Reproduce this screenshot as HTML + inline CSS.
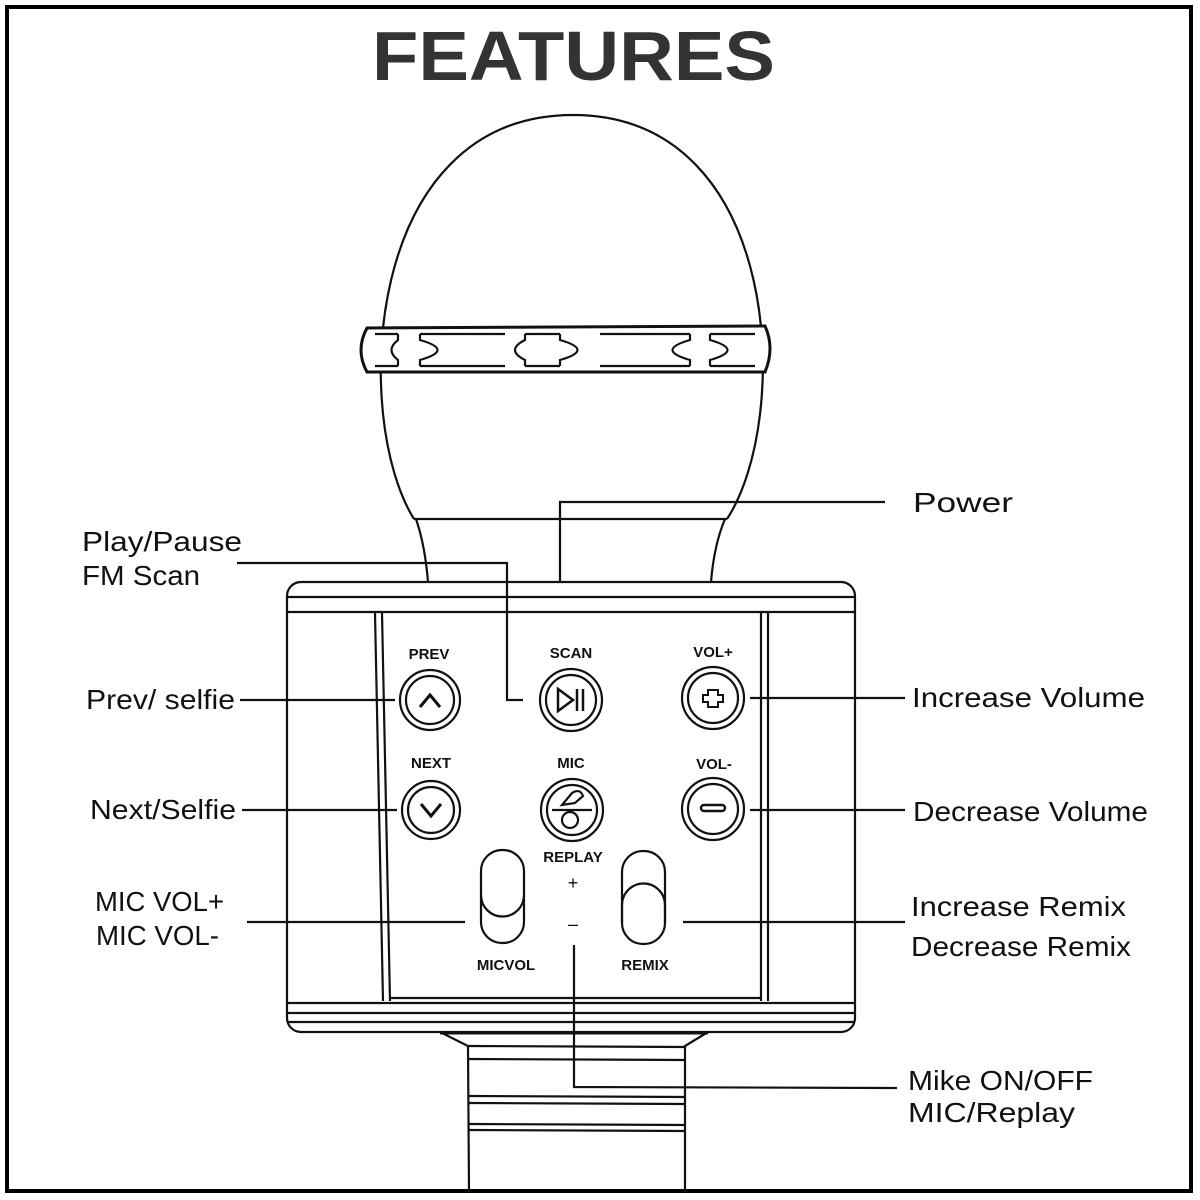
<!DOCTYPE html>
<html><head><meta charset="utf-8"><style>
html,body{margin:0;padding:0;background:#fff;}
svg{display:block;}
text{font-family:"Liberation Sans",sans-serif;fill:#111;}
.lbl{font-size:28px;}
.btn{font-size:15px;font-weight:bold;text-anchor:middle;}
</style></head><body>
<svg width="1200" height="1200" viewBox="0 0 1200 1200" xmlns="http://www.w3.org/2000/svg">
<rect x="0" y="0" width="1200" height="1200" fill="#fff"/>
<rect x="7" y="7" width="1184" height="1184" fill="none" stroke="#000" stroke-width="4"/>
<text x="372" y="80" font-size="70" font-weight="bold" textLength="403" lengthAdjust="spacingAndGlyphs" style="fill:#333">FEATURES</text>

<g fill="none" stroke="#111" stroke-width="2.2">
<path d="M414 519 C352 420 362 115 573 115 C784 115 792 420 727 519"/>
<path d="M367 328 L765 326 Q775 348 765 372 L367 372 Q355 350 367 328 Z" fill="#fff" stroke-width="3"/>
<path d="M375 334 L398 334 M420 334 L505 334 M525 334 L560 334 M600 334 L690 334 M710 334 L755 334"/>
<path d="M375 366 L398 366 M420 366 L505 366 M525 366 L560 366 M600 366 L690 366 M710 366 L755 366"/>
<path d="M398 334 L398 340 Q385 350 398 360 L398 366"/>
<path d="M420 334 L420 340 Q455 350 420 360 L420 366"/>
<path d="M525 334 L525 340 Q505 350 525 360 L525 366"/>
<path d="M560 334 L560 340 Q595 350 560 360 L560 366"/>
<path d="M690 334 L690 340 Q655 350 690 360 L690 366"/>
<path d="M710 334 L710 340 Q745 350 710 360 L710 366"/>
<path d="M414 519 L727 519"/>
<path d="M416 519 Q425 545 428 582"/>
<path d="M725 519 Q714 545 711 582"/>
<rect x="287" y="582" width="568" height="450" rx="14"/>
<path d="M288 597 L854 597 M288 612 L854 612"/>
<path d="M375 613 L383 1001 M382 613 L390 1001"/>
<path d="M761 613 L761 1001 M768 613 L768 1001"/>
<path d="M390 998 L760 998"/>
<path d="M288 1003 L854 1003 M288 1013 L854 1013 M288 1022 L854 1022"/>
<path d="M440 1032 L468 1046 L469 1192 M708 1032 L685 1046 L685 1192"/>
<path d="M440 1033 L708 1033" stroke-width="3"/>
<path d="M468 1046 L685 1047 M468 1059 L685 1060 M469 1096 L685 1097 M469 1103 L685 1104 M469 1124 L685 1125 M469 1130 L685 1131"/>
<circle cx="430" cy="700" r="30"/><circle cx="430" cy="700" r="24"/>
<circle cx="571" cy="700" r="31"/><circle cx="571" cy="700" r="25"/>
<circle cx="713" cy="698" r="31"/><circle cx="713" cy="698" r="25"/>
<circle cx="431" cy="810" r="29"/><circle cx="431" cy="810" r="23"/>
<circle cx="572" cy="810" r="31"/><circle cx="572" cy="810" r="25"/>
<circle cx="713" cy="809" r="31"/><circle cx="713" cy="809" r="25"/>
<path d="M420 707 L430 695 L440 707" stroke-width="3"/>
<path d="M421 804 L431 816 L441 804" stroke-width="3"/>
<path d="M558 689 L558 711 L573 700 Z M577 689 L577 711 M583 689 L583 711" stroke-width="2.5"/>
<path d="M708 690 L718 690 L718 695 L723 695 L723 702 L718 702 L718 707 L708 707 L708 702 L703 702 L703 695 L708 695 Z" stroke-width="2"/>
<rect x="701" y="805" width="24" height="6" rx="3" stroke-width="2.5"/>
<path d="M552 810 L592 810"/>
<circle cx="570" cy="820" r="8"/>
<path d="M562 805 L572 793 Q580 788 583 796 L575 803 Z"/>
<rect x="481" y="850" width="43" height="93" rx="21"/>
<path d="M481 895 A21 21 0 0 0 524 895"/>
<rect x="622" y="851" width="43" height="93" rx="21"/>
<path d="M622 922 L622 905 A21 21 0 0 1 665 905 L665 922"/>
<path d="M237 563 L507 563 L507 700 L523 700"/>
<path d="M885 502 L560 502 L560 582"/>
<path d="M240 700 L395 700 M242 810 L397 810"/>
<path d="M750 698 L905 698 M750 810 L905 810"/>
<path d="M247 922 L465 922 M683 922 L905 922"/>
<path d="M574 945 L574 1087 L897 1088"/>
</g>
<text class="btn" x="429" y="659">PREV</text>
<text class="btn" x="571" y="658">SCAN</text>
<text class="btn" x="713" y="657">VOL+</text>
<text class="btn" x="431" y="768">NEXT</text>
<text class="btn" x="571" y="768">MIC</text>
<text class="btn" x="714" y="769">VOL-</text>
<text class="btn" x="573" y="862">REPLAY</text>
<text class="btn" x="573" y="889" style="font-weight:normal;font-size:18px">+</text>
<text class="btn" x="573" y="930" style="font-weight:normal;font-size:18px">–</text>
<text class="btn" x="506" y="970">MICVOL</text>
<text class="btn" x="645" y="970">REMIX</text>

<text class="lbl" x="913" y="512" textLength="100" lengthAdjust="spacingAndGlyphs">Power</text>
<text class="lbl" x="82" y="551" textLength="160" lengthAdjust="spacingAndGlyphs">Play/Pause</text>
<text class="lbl" x="82" y="585" textLength="118" lengthAdjust="spacingAndGlyphs">FM Scan</text>
<text class="lbl" x="86" y="709" textLength="149" lengthAdjust="spacingAndGlyphs">Prev/ selfie</text>
<text class="lbl" x="90" y="819" textLength="146" lengthAdjust="spacingAndGlyphs">Next/Selfie</text>
<text class="lbl" x="912" y="707" textLength="233" lengthAdjust="spacingAndGlyphs">Increase Volume</text>
<text class="lbl" x="913" y="821" textLength="235" lengthAdjust="spacingAndGlyphs">Decrease Volume</text>
<text class="lbl" x="95" y="911" textLength="129" lengthAdjust="spacingAndGlyphs">MIC VOL+</text>
<text class="lbl" x="96" y="945" textLength="123" lengthAdjust="spacingAndGlyphs">MIC VOL-</text>
<text class="lbl" x="911" y="916" textLength="215" lengthAdjust="spacingAndGlyphs">Increase Remix</text>
<text class="lbl" x="911" y="956" textLength="220" lengthAdjust="spacingAndGlyphs">Decrease Remix</text>
<text class="lbl" x="908" y="1090" textLength="185" lengthAdjust="spacingAndGlyphs">Mike ON/OFF</text>
<text class="lbl" x="908" y="1122" textLength="167" lengthAdjust="spacingAndGlyphs">MIC/Replay</text>
</svg>
</body></html>
